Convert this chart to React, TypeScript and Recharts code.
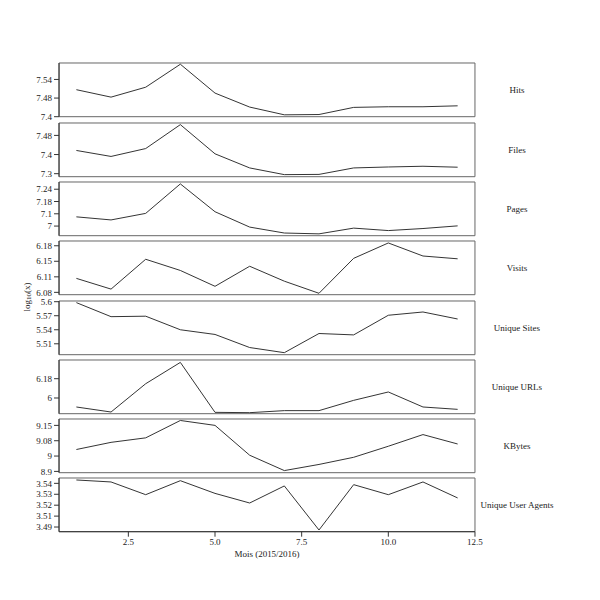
import React from "react";
import {
  LineChart,
  Line,
  XAxis,
  YAxis,
  ReferenceArea,
} from "recharts";

// months 1..12 of the 2015/2016 season
const months = [1, 2, 3, 4, 5, 6, 7, 8, 9, 10, 11, 12];

// log10 values
const hits = [7.507, 7.483, 7.515, 7.589, 7.496, 7.451, 7.426, 7.427, 7.45, 7.452, 7.452, 7.455];
const files = [7.417, 7.392, 7.425, 7.525, 7.403, 7.344, 7.316, 7.317, 7.344, 7.348, 7.351, 7.347];
const pages = [7.105, 7.09, 7.122, 7.266, 7.13, 7.055, 7.026, 7.022, 7.05, 7.038, 7.048, 7.061];
const visits = [6.11, 6.087, 6.151, 6.127, 6.093, 6.136, 6.104, 6.078, 6.153, 6.186, 6.158, 6.152];
const uniqueSites = [5.598, 5.568, 5.569, 5.54, 5.53, 5.502, 5.491, 5.532, 5.529, 5.571, 5.578, 5.563];
const uniqueUrls = [5.916, 5.869, 6.133, 6.332, 5.866, 5.863, 5.882, 5.882, 5.978, 6.056, 5.916, 5.894];
const kbytes = [9.032, 9.067, 9.089, 9.174, 9.15, 9.004, 8.929, 8.959, 8.994, 9.048, 9.105, 9.059];
const userAgents = [3.5434, 3.5414, 3.5286, 3.5427, 3.5299, 3.5202, 3.5374, 3.493, 3.5387, 3.5286, 3.5414, 3.5253];

// tick positions (in log units) and the labels printed next to them
const hitsTicks = [7.42, 7.48, 7.54];
const hitsLabels = ["7.4", "7.48", "7.54"];
const filesTicks = [7.32, 7.4, 7.48];
const filesLabels = ["7.3", "7.4", "7.48"];
const pagesTicks = [7.06, 7.12, 7.18, 7.24];
const pagesLabels = ["7", "7.1", "7.18", "7.24"];
const visitsTicks = [6.08, 6.1133, 6.1467, 6.18];
const visitsLabels = ["6.08", "6.11", "6.15", "6.18"];
const sitesTicks = [5.51, 5.54, 5.57, 5.6];
const sitesLabels = ["5.51", "5.54", "5.57", "5.6"];
const urlsTicks = [6.0, 6.18];
const urlsLabels = ["6", "6.18"];
const kbytesTicks = [8.925, 9.0, 9.075, 9.15];
const kbytesLabels = ["8.9", "9", "9.08", "9.15"];
const agentsTicks = [3.496, 3.507, 3.518, 3.529, 3.54];
const agentsLabels = ["3.49", "3.51", "3.52", "3.53", "3.54"];

const xTicks = [2.5, 5, 7.5, 10, 12.5];

const FONT = "'Liberation Serif', 'Times New Roman', serif";
const INK = "#222";
const LINE = "#333";
const FRAME = "#666";

interface Panel {
  name: string;
  values: number[];
  domain: [number, number];
  ticks: number[];
  labels: string[];
}

const panels: Panel[] = [
  { name: "Hits", values: hits, domain: [7.42, 7.593], ticks: hitsTicks, labels: hitsLabels },
  { name: "Files", values: files, domain: [7.3074, 7.5318], ticks: filesTicks, labels: filesLabels },
  { name: "Pages", values: pages, domain: [7.013, 7.2753], ticks: pagesTicks, labels: pagesLabels },
  { name: "Visits", values: visits, domain: [6.075, 6.1902], ticks: visitsTicks, labels: visitsLabels },
  { name: "Unique Sites", values: uniqueSites, domain: [5.4867, 5.6015], ticks: sitesTicks, labels: sitesLabels },
  { name: "Unique URLs", values: uniqueUrls, domain: [5.8535, 6.3544], ticks: urlsTicks, labels: urlsLabels },
  { name: "KBytes", values: kbytes, domain: [8.9187, 9.1812], ticks: kbytesTicks, labels: kbytesLabels },
  { name: "Unique User Agents", values: userAgents, domain: [3.4913, 3.5454], ticks: agentsTicks, labels: agentsLabels },
];

const PLOT_H = 53.7;
const FIRST_TOP = 63.3;
const STEP = 59.3;
const PAD = 6;

function PanelChart({ panel, index }: { panel: Panel; index: number }) {
  const last = index === panels.length - 1;
  const data = months.map((m, i) => ({ m, v: panel.values[i] }));
  const height = PAD + PLOT_H + (last ? 30 : PAD);
  const top = FIRST_TOP + STEP * index - PAD;

  return (
    <div style={{ position: "absolute", left: 0, top, width: 600, height }}>
      <LineChart
        width={600}
        height={height}
        data={data}
        margin={{ top: PAD, right: 41, bottom: last ? 0 : PAD, left: 0 }}
      >
        <XAxis
          dataKey="m"
          type="number"
          domain={[0.5, 12.5]}
          allowDataOverflow
          ticks={xTicks}
          interval={0}
          hide={!last}
          height={last ? 30 : 0}
          tickFormatter={(v: number) => v.toFixed(1)}
          tick={{ fill: INK, fontSize: 9, fontFamily: FONT }}
          axisLine={{ stroke: LINE }}
          tickLine={{ stroke: LINE }}
          tickSize={5}
          label={
            last
              ? {
                  value: "Mois (2015/2016)",
                  position: "insideBottom",
                  offset: 5,
                  fill: INK,
                  fontSize: 9,
                  fontFamily: FONT,
                }
              : undefined
          }
        />
        <YAxis
          type="number"
          domain={panel.domain}
          allowDataOverflow
          ticks={panel.ticks}
          interval={0}
          width={59}
          tickFormatter={(v: number) => panel.labels[panel.ticks.indexOf(v)] ?? ""}
          tick={{ fill: INK, fontSize: 9, fontFamily: FONT }}
          axisLine={{ stroke: LINE }}
          tickLine={{ stroke: LINE }}
          tickSize={5}
          tickMargin={2}
        />
        <YAxis
          yAxisId="r"
          orientation="right"
          type="number"
          domain={panel.domain}
          width={84}
          tick={false}
          tickLine={false}
          axisLine={false}
          label={{
            value: panel.name,
            position: "center",
            fill: INK,
            fontSize: 9,
            fontFamily: FONT,
          }}
        />
        <ReferenceArea
          x1={0.5}
          x2={12.5}
          y1={panel.domain[0]}
          y2={panel.domain[1]}
          fill="none"
          stroke={FRAME}
          strokeWidth={1}
        />
        <Line
          type="linear"
          dataKey="v"
          stroke={LINE}
          strokeWidth={1}
          dot={false}
          isAnimationActive={false}
        />
      </LineChart>
    </div>
  );
}

export default function App() {
  return (
    <div style={{ position: "absolute", left: 0, top: 0, width: 600, height: 600, background: "#fff" }}>
      {panels.map((p, i) => (
        <PanelChart key={p.name} panel={p} index={i} />
      ))}
      <svg
        width={40}
        height={80}
        style={{ position: "absolute", left: 7, top: 257 }}
      >
        <text
          transform="translate(20,40) rotate(-90)"
          textAnchor="middle"
          dominantBaseline="central"
          fill={INK}
          fontSize={9}
          fontFamily={FONT}
        >
          log
          <tspan fontSize={7} dy={2}>10</tspan>
          <tspan dy={-2}>(x)</tspan>
        </text>
      </svg>
    </div>
  );
}
